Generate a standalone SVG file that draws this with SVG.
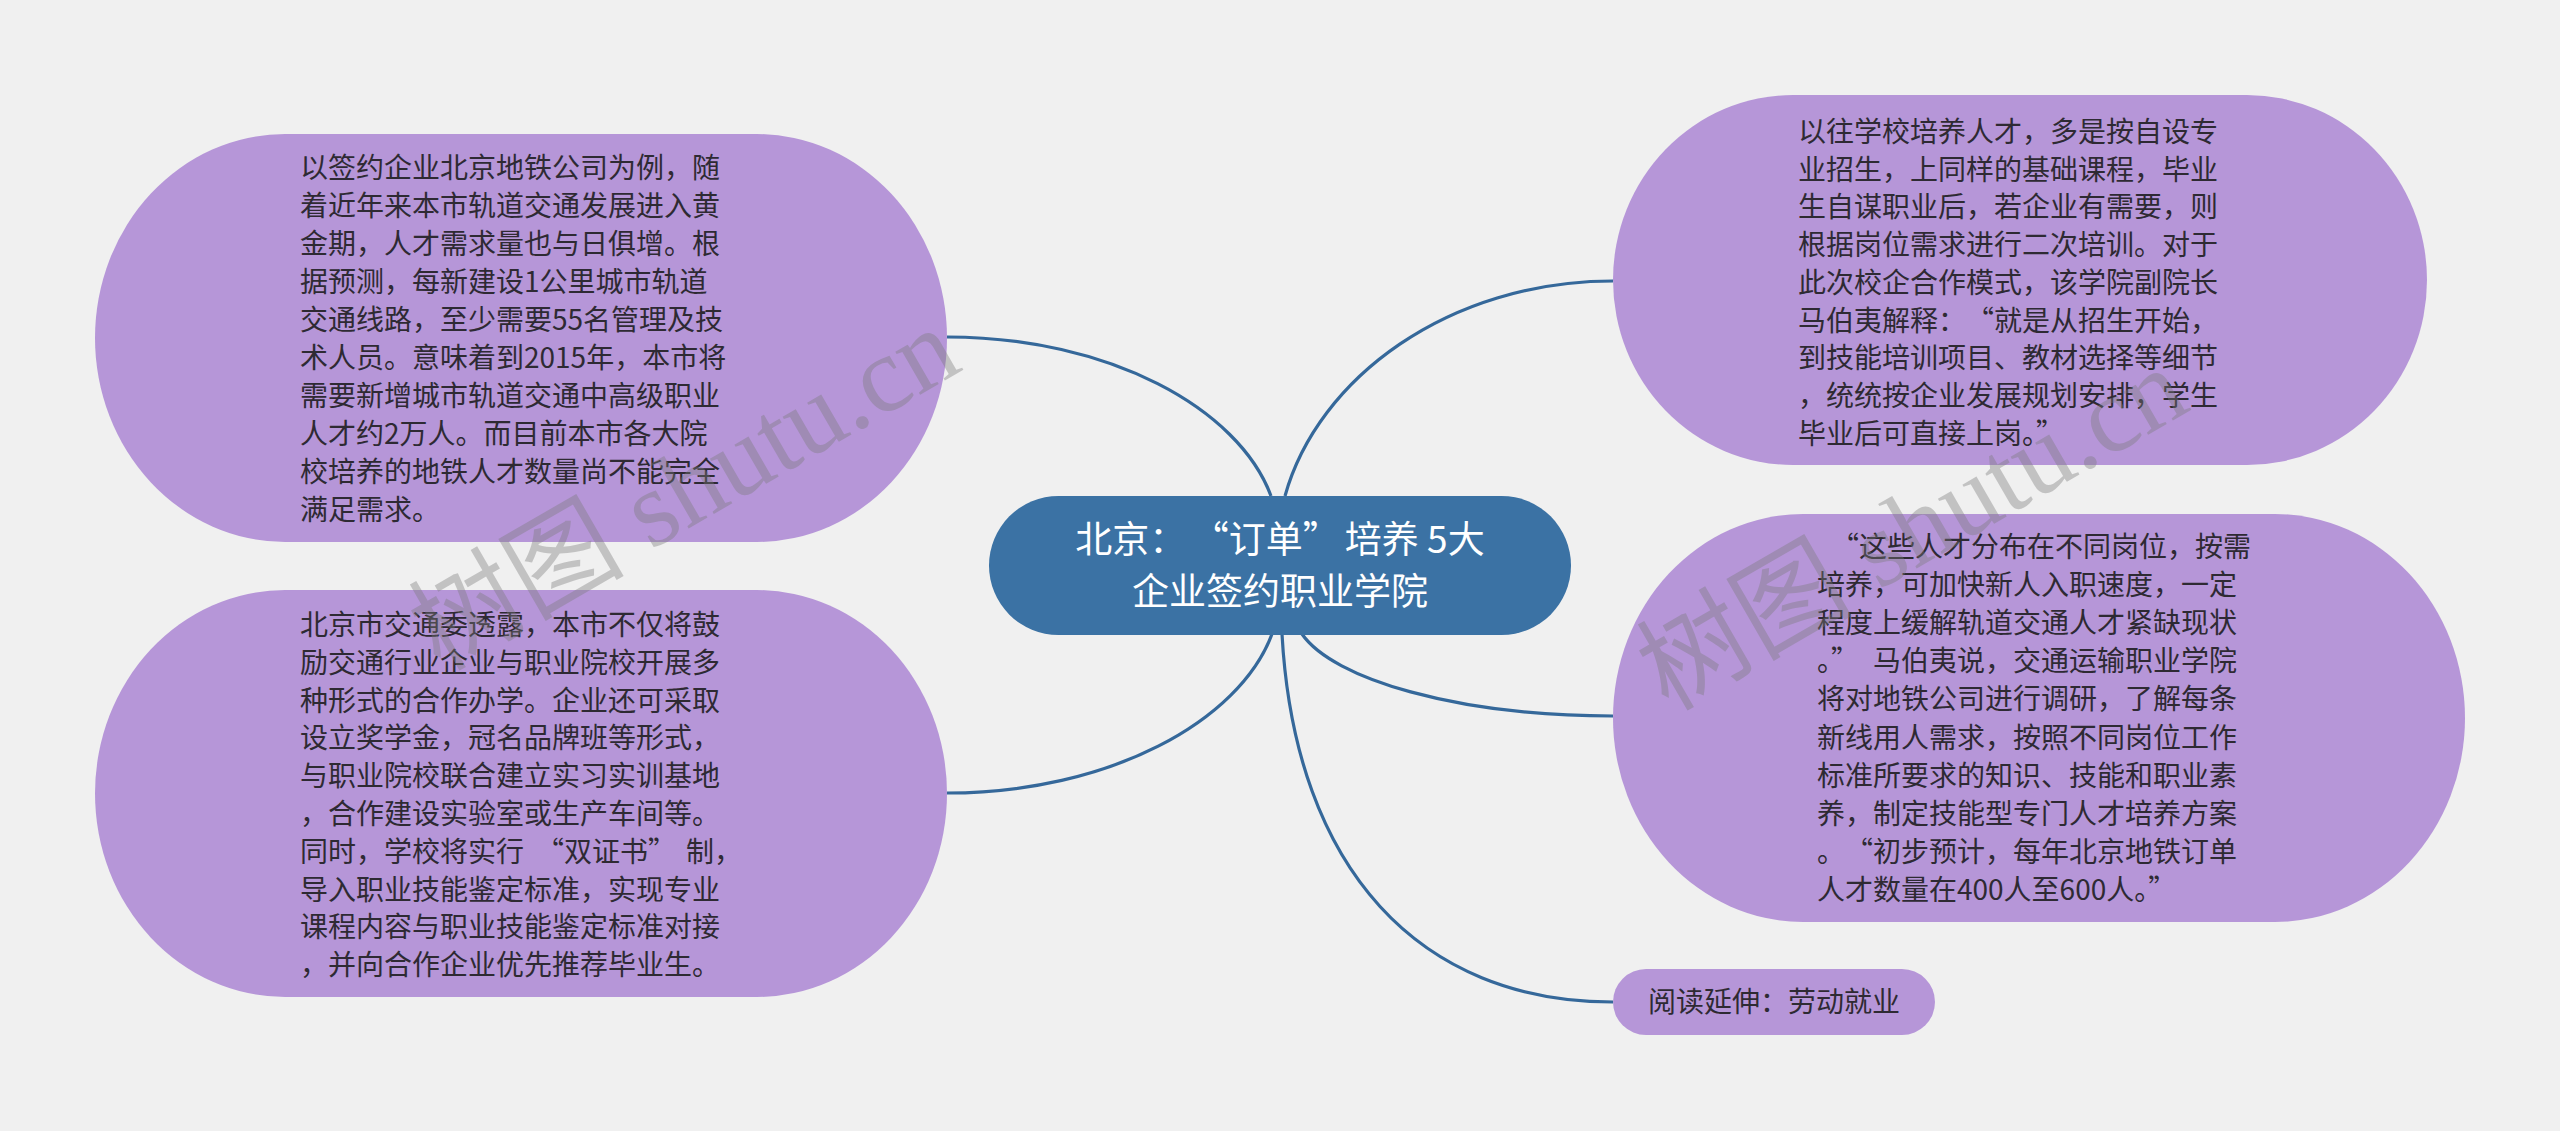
<svg xmlns="http://www.w3.org/2000/svg" width="2560" height="1131" viewBox="0 0 2560 1131">
<style>
.bg{fill:#f0f0f0}
.leaf{fill:#b696d8}
.root{fill:#3b72a4}
.link{fill:none;stroke:#35689a;stroke-width:3.2}
.t{font-family:"Noto Sans CJK SC","Microsoft YaHei",sans-serif;font-size:28px;fill:#2e2a33}
.rt{font-family:"Noto Sans CJK SC","Microsoft YaHei",sans-serif;font-size:37px;fill:#ffffff;text-anchor:middle}
.wm{font-family:"Liberation Serif","Noto Sans CJK SC",serif;font-size:108px;fill:#7a7a7a;opacity:0.38}
</style>
<rect class="bg" x="0" y="0" width="2560" height="1131"/>
<g id="connectors">
<path class="link" d="M1271,496 C1238.6,408.5 1109,337 947,337"/>
<path class="link" d="M1272,634 C1239.5,721 1109.5,793 947,793"/>
<path class="link" d="M1285,496 C1317.8,377.75 1449,281 1613,281"/>
<path class="link" d="M1302,634 C1333,679 1457,716 1613,716"/>
<path class="link" d="M1282,634 C1295,870 1420,1002 1613,1002"/>
</g>
<g id="root">
<rect class="root" x="989" y="496" width="582" height="139" rx="69.5" ry="69.5"/>
<text class="rt" x="1280" y="553">北京：<tspan dx="24">“订单”</tspan><tspan dx="5">培养 5大</tspan></text>
<text class="rt" x="1280" y="605">企业签约职业学院</text>
</g>
<g id="node1">
<rect class="leaf" x="95" y="134" width="852" height="408" rx="190" ry="204"/>
<text class="t" x="300" y="178">
<tspan x="300" dy="0">以签约企业北京地铁公司为例，随</tspan>
<tspan x="300" dy="38">着近年来本市轨道交通发展进入黄</tspan>
<tspan x="300" dy="38">金期，人才需求量也与日俱增。根</tspan>
<tspan x="300" dy="38">据预测，每新建设1公里城市轨道</tspan>
<tspan x="300" dy="38">交通线路，至少需要55名管理及技</tspan>
<tspan x="300" dy="38">术人员。意味着到2015年，本市将</tspan>
<tspan x="300" dy="38">需要新增城市轨道交通中高级职业</tspan>
<tspan x="300" dy="38">人才约2万人。而目前本市各大院</tspan>
<tspan x="300" dy="38">校培养的地铁人才数量尚不能完全</tspan>
<tspan x="300" dy="38">满足需求。</tspan>
</text>
</g>
<g id="node2">
<rect class="leaf" x="95" y="590" width="852" height="407" rx="190" ry="203.5"/>
<text class="t" x="300" y="635">
<tspan x="300" dy="0">北京市交通委透露，本市不仅将鼓</tspan>
<tspan x="300" dy="37.8">励交通行业企业与职业院校开展多</tspan>
<tspan x="300" dy="37.8">种形式的合作办学。企业还可采取</tspan>
<tspan x="300" dy="37.8">设立奖学金，冠名品牌班等形式，</tspan>
<tspan x="300" dy="37.8">与职业院校联合建立实习实训基地</tspan>
<tspan x="300" dy="37.8">，合作建设实验室或生产车间等。</tspan>
<tspan x="300" dy="37.8">同时，学校将实行<tspan dx="12">“双证书”</tspan><tspan dx="10">制，</tspan></tspan>
<tspan x="300" dy="37.8">导入职业技能鉴定标准，实现专业</tspan>
<tspan x="300" dy="37.8">课程内容与职业技能鉴定标准对接</tspan>
<tspan x="300" dy="37.8">，并向合作企业优先推荐毕业生。</tspan>
</text>
</g>
<g id="node3">
<rect class="leaf" x="1613" y="95" width="814" height="370" rx="180" ry="185"/>
<text class="t" x="1798" y="142">
<tspan x="1798" dy="0">以往学校培养人才，多是按自设专</tspan>
<tspan x="1798" dy="37.7">业招生，上同样的基础课程，毕业</tspan>
<tspan x="1798" dy="37.7">生自谋职业后，若企业有需要，则</tspan>
<tspan x="1798" dy="37.7">根据岗位需求进行二次培训。对于</tspan>
<tspan x="1798" dy="37.7">此次校企合作模式，该学院副院长</tspan>
<tspan x="1798" dy="37.7">马伯夷解释：<tspan dx="14">“就是从招生开始，</tspan></tspan>
<tspan x="1798" dy="37.7">到技能培训项目、教材选择等细节</tspan>
<tspan x="1798" dy="37.7">，统统按企业发展规划安排，学生</tspan>
<tspan x="1798" dy="37.7">毕业后可直接上岗。”</tspan>
</text>
</g>
<g id="node4">
<rect class="leaf" x="1613" y="514" width="852" height="408" rx="190" ry="204"/>
<text class="t" x="1817" y="557">
<tspan x="1831" dy="0">“这些人才分布在不同岗位，按需</tspan>
<tspan x="1817" dy="38.1">培养，可加快新人入职速度，一定</tspan>
<tspan x="1817" dy="38.1">程度上缓解轨道交通人才紧缺现状</tspan>
<tspan x="1817" dy="38.1">。”<tspan dx="14">马伯夷说，交通运输职业学院</tspan></tspan>
<tspan x="1817" dy="38.1">将对地铁公司进行调研，了解每条</tspan>
<tspan x="1817" dy="38.1">新线用人需求，按照不同岗位工作</tspan>
<tspan x="1817" dy="38.1">标准所要求的知识、技能和职业素</tspan>
<tspan x="1817" dy="38.1">养，制定技能型专门人才培养方案</tspan>
<tspan x="1817" dy="38.1">。<tspan dx="14">“初步预计，每年北京地铁订单</tspan></tspan>
<tspan x="1817" dy="38.1">人才数量在400人至600人。”</tspan>
</text>
</g>
<g id="node5">
<rect class="leaf" x="1613" y="969" width="322" height="66" rx="33" ry="33"/>
<text class="t" x="1774" y="1012" text-anchor="middle">阅读延伸：劳动就业</text>
</g>
<g id="watermarks">
<text class="wm" x="440" y="672" transform="rotate(-30 440 672)">树图 shutu.cn</text>
<text class="wm" x="1668" y="712" transform="rotate(-30 1668 712)">树图 shutu.cn</text>
</g>
</svg>
